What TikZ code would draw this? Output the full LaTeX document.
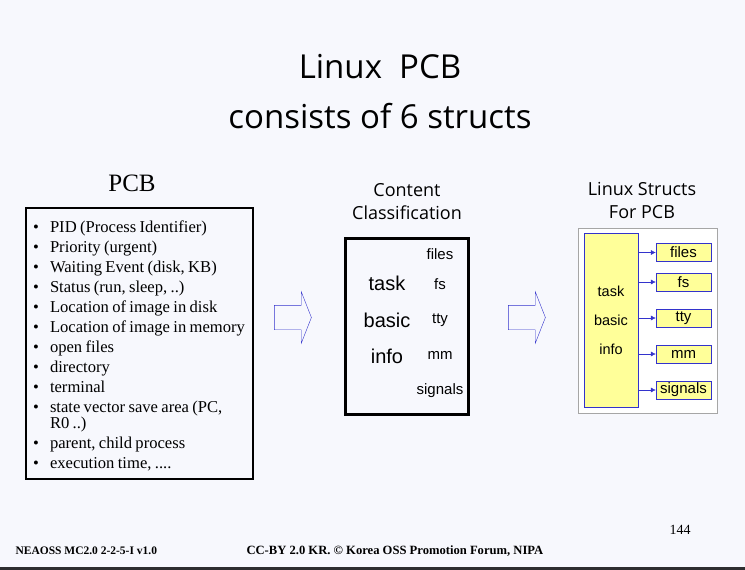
\documentclass[tikz,border=0pt]{standalone}
\usepackage{fontspec}
\setmainfont{Liberation Serif}
\setsansfont{Liberation Sans}
\newfontfamily\headfont{Open Sans}
\usetikzlibrary{shapes.arrows,arrows.meta}

\definecolor{slidebg}{RGB}{247,248,253}
\definecolor{darkbar}{RGB}{46,46,48}
\definecolor{pptblue}{RGB}{51,51,204}
\definecolor{pptyellow}{RGB}{255,255,153}

\begin{document}
\begin{tikzpicture}[x=1pt,y=-1pt,
    title/.style={font=\headfont\fontsize{33}{50}\selectfont, align=center},
    head/.style={font=\headfont\fontsize{18}{23}\selectfont, align=center},
    bigword/.style={font=\sffamily\fontsize{20}{20}\selectfont, inner sep=0pt},
    word/.style={font=\sffamily\fontsize{15}{15}\selectfont, inner sep=0pt},
    hollow/.style={single arrow, draw=pptblue, fill=slidebg, inner xsep=0pt, inner ysep=12pt,
        minimum height=37pt, single arrow head extend=13.5pt, single arrow tip angle=137},
    structbox/.style={draw=pptblue, fill=pptyellow, minimum width=55pt,
        minimum height=18pt, inner sep=0pt, font=\sffamily\fontsize{15}{15}\selectfont},
    link/.style={draw=pptblue, -{Latex[length=5pt,width=5pt]}},
    foot/.style={anchor=west, font=\bfseries\fontsize{11.5}{12}\selectfont}]

    % slide
    \fill[slidebg] (0,0) rectangle (745,570);
    \fill[darkbar] (0,567) rectangle (745,570);
    \useasboundingbox (0,0) rectangle (745,570);

    \node[title] (title) at (380,92) {Linux~~PCB\\consists of 6 structs};

    % PCB list
    \node[font=\fontsize{25}{25}\selectfont] (pcbhead) at (132,183) {PCB};
    \node[draw, line width=2pt, anchor=north west, minimum width=227pt, minimum height=271pt,
          text width=215pt, inner xsep=6pt, inner ysep=0pt] (pcb) at (25,207) {%
        \fontsize{16.6}{16}\selectfont
        \begin{list}{\textbullet}{\setlength{\leftmargin}{18pt}\setlength{\labelsep}{11pt}%
            \setlength{\itemsep}{4pt}\setlength{\parsep}{0pt}%
            \setlength{\topsep}{0pt}\setlength{\partopsep}{0pt}}
        \item PID (Process Identifier)
        \item Priority (urgent)
        \item Waiting Event (disk, KB)
        \item Status (run, sleep, ..)
        \item Location of image in disk
        \item Location of image in memory
        \item open files
        \item directory
        \item terminal
        \item state vector save area (PC,\newline R0 ..)
        \item parent, child process
        \item execution time, ....
        \end{list}};

    \node[hollow] (arrA) at (290.5,317.5) {};

    % content classification
    \node[head] (conthead) at (407,201.5) {Content\\Classification};
    \node[draw, line width=3pt, minimum width=123pt, minimum height=176pt] (content) at (406.5,326) {};
    \node[bigword] (task) at (387,283) {task};
    \node[bigword] (basic) at (387,320) {basic};
    \node[bigword] (info) at (387,356) {info};
    \node[word] (cfiles) at (440,254) {files};
    \node[word] (cfs) at (440,284) {fs};
    \node[word] (ctty) at (440,320) {tty};
    \node[word] (cmm) at (440,355) {mm};
    \node[word] (csignals) at (440,391) {signals};

    \node[hollow] (arrB) at (524.5,317.5) {};

    % linux structs
    \node[head] (structhead) at (642,200.5) {Linux Structs\\For PCB};
    \node[draw=gray!70, fill=white, minimum width=139pt, minimum height=185pt] (panel) at (647.5,320.5) {};
    \node[draw=pptblue, fill=pptyellow, minimum width=54pt, minimum height=174pt, align=center,
          font=\sffamily\fontsize{14.5}{29}\selectfont] (taskbox) at (611,320) {task\\basic\\info};
    \foreach \name/\y in {files/252.5, fs/282, tty/318, mm/354, signals/390} {
        \node[structbox] (s-\name) at (683.5,\y) {\name};
        \draw[link] (taskbox.east |- s-\name.west) -- (s-\name.west);
    }

    % footer
    \node[font=\fontsize{14}{14}\selectfont] (page) at (680,530) {144};
    \node[foot] (version) at (12,551) {NEAOSS MC2.0 2-2-5-I v1.0};
    \node[foot, font=\bfseries\fontsize{12.6}{13}\selectfont] (licence) at (243,551) {CC-BY 2.0 KR. \textcopyright{} Korea OSS Promotion Forum, NIPA};
\end{tikzpicture}
\end{document}
